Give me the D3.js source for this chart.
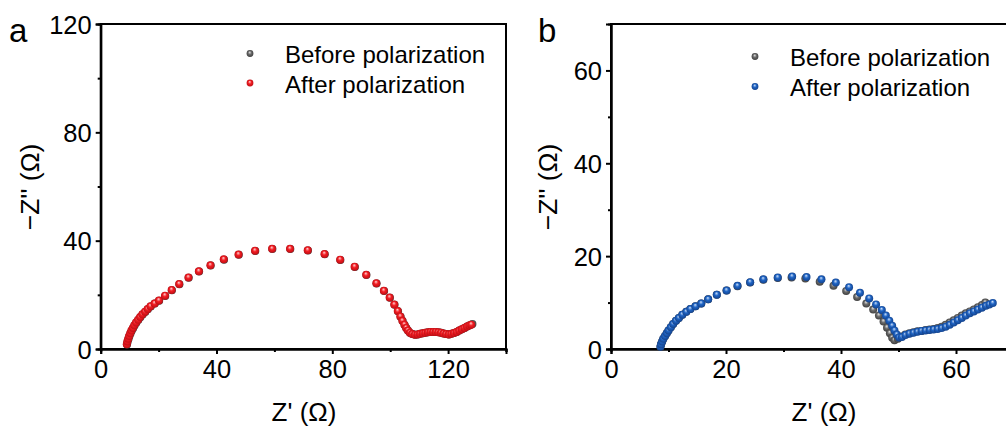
<!DOCTYPE html>
<html>
<head>
<meta charset="utf-8">
<script src="https://cdn.jsdelivr.net/npm/d3@7"></script>
<style>
  body { margin: 0; background: #fff; }
  svg { display: block; font-family: "Liberation Sans", Arial, sans-serif; }
</style>
</head>
<body>
<div id="chart"></div>
<script>
// panel a: Z' / -Z'' pairs, ohm
const aBefore = [
  [9.1,1.7],[9.3,2.7],[9.6,3.7],[9.9,4.7],[10.3,5.7],[10.7,6.7],[11.2,7.7],[11.7,8.7],[12.3,9.7],
  [13.0,10.7],[13.7,11.7],[14.5,12.7],[15.4,13.7],[16.3,14.7],[17.3,15.7],[18.7,16.8],[20.2,17.8],
  [22.3,19.6],[24.6,21.7],[27.2,23.9],[30.4,26.3],[34.0,28.6],[38.0,30.8],[42.6,33.0],[47.7,34.8],
  [53.4,36.2],[59.3,36.9],[65.5,36.9],[71.6,36.4],[77.4,35.0],[82.8,32.9],[87.8,30.3],[91.8,27.3],
  [95.3,24.2],[97.9,21.4],[99.9,18.9],[101.5,16.3],[102.7,13.9],[103.6,11.9],[104.3,10.3],[105.0,8.9],
  [105.6,7.7],[106.2,6.7],[106.9,5.9],[107.7,5.5],[108.6,5.3],[109.5,5.4],[110.4,5.6],[111.3,5.8],
  [112.2,6.0],[113.1,6.2],[114.0,6.3],[114.9,6.3],[115.8,6.3],[116.7,6.2],[117.6,6.0],[118.5,5.7],
  [119.4,5.5],[120.3,5.4],[121.2,5.6],[122.1,5.9],[123.0,6.3],[123.9,6.8],[124.8,7.3],[125.7,7.8],
  [126.6,8.3],[127.5,8.8],[128.4,9.2]
];
const aAfter = [
  [9.0,1.8],[9.2,2.8],[9.5,3.8],[9.8,4.8],[10.2,5.8],[10.6,6.8],[11.1,7.8],[11.6,8.8],[12.2,9.8],
  [12.9,10.8],[13.6,11.8],[14.4,12.8],[15.3,13.8],[16.2,14.8],[17.2,15.8],[18.6,16.8],[20.1,17.9],
  [22.2,19.7],[24.5,21.8],[27.1,24.0],[30.3,26.4],[33.9,28.7],[37.9,30.9],[42.5,33.1],[47.6,34.9],
  [53.3,36.3],[59.2,37.0],[65.4,37.0],[71.5,36.5],[77.3,35.1],[82.7,33.0],[87.7,30.4],[91.7,27.4],
  [95.2,24.3],[97.8,21.5],[99.8,19.0],[101.4,16.4],[102.6,14.0],[103.5,12.0],[104.2,10.4],[104.9,9.0],
  [105.5,7.8],[106.1,6.8],[106.8,6.0],[107.6,5.5],[108.5,5.3],[109.4,5.4],[110.3,5.6],[111.2,5.8],
  [112.1,6.0],[113.0,6.2],[113.9,6.3],[114.8,6.3],[115.7,6.3],[116.6,6.2],[117.5,6.0],[118.4,5.7],
  [119.3,5.5],[120.2,5.4],[121.1,5.6],[122.0,5.9],[122.9,6.3],[123.8,6.8],[124.7,7.3],[125.6,7.8],
  [126.5,8.3],[127.3,8.7],[128.0,9.0]
];

// panel b
const bBefore = [
  [8.6,0.5],[8.7,1.0],[8.9,1.6],[9.1,2.2],[9.4,2.8],[9.7,3.4],[10.0,4.0],[10.4,4.7],[10.8,5.4],
  [11.3,6.1],[11.8,6.7],[12.4,7.4],[13.1,8.0],[13.8,8.6],[14.7,9.2],[15.7,9.8],[16.9,10.7],[18.4,11.7],
  [20.1,12.6],[22.0,13.5],[24.2,14.3],[26.5,14.9],[29.0,15.3],[31.4,15.4],[33.8,15.2],[36.3,14.5],
  [38.7,13.6],[40.9,12.5],[42.8,11.2],[44.4,9.8],[45.6,8.5],[46.6,7.2],[47.4,5.9],[48.0,4.6],
  [48.5,3.4],[48.9,2.4],[49.3,1.9],[49.9,2.2],[50.5,2.7],[51.2,3.1],[51.9,3.4],[52.6,3.6],[53.3,3.8],
  [54.0,3.9],[54.7,4.1],[55.4,4.2],[56.1,4.3],[56.8,4.5],[57.5,4.8],[58.2,5.2],[58.9,5.7],[59.6,6.2],
  [60.3,6.7],[61.0,7.2],[61.7,7.7],[62.4,8.1],[63.1,8.5],[63.8,9.0],[64.5,9.5],[65.1,10.0]
];
const bAfter = [
  [8.6,0.5],[8.7,1.0],[8.9,1.6],[9.1,2.2],[9.4,2.8],[9.7,3.4],[10.0,4.0],[10.4,4.7],[10.8,5.4],
  [11.3,6.1],[11.8,6.7],[12.4,7.4],[13.1,8.0],[13.8,8.6],[14.7,9.2],[15.7,9.8],[16.9,10.7],[18.4,11.7],
  [20.1,12.6],[22.0,13.6],[24.2,14.4],[26.5,15.0],[29.0,15.4],[31.5,15.6],[34.0,15.5],[36.6,15.0],
  [39.1,14.3],[41.4,13.3],[43.3,12.1],[44.9,10.9],[46.1,9.6],[47.1,8.4],[47.8,7.2],[48.4,6.1],
  [48.9,5.0],[49.3,4.0],[49.7,3.1],[50.1,2.5],[50.6,2.6],[51.2,3.0],[51.9,3.3],[52.6,3.5],[53.3,3.7],
  [54.0,3.9],[54.7,4.0],[55.4,4.1],[56.1,4.2],[56.8,4.3],[57.5,4.5],[58.2,4.8],[58.9,5.2],[59.6,5.7],
  [60.3,6.2],[61.0,6.7],[61.7,7.2],[62.4,7.7],[63.1,8.1],[63.8,8.5],[64.5,8.9],[65.2,9.3],[65.8,9.6],
  [66.4,9.9]
];

const legendLabels = ["Before polarization", "After polarization"];
const aXTicks = [0, 40, 80, 120], aYTicks = [0, 40, 80, 120];
const bXTicks = [0, 20, 40, 60], bYTicks = [0, 20, 40, 60];

const W = 1006, H = 429;
const svg = d3.select("#chart").append("svg")
  .attr("width", W).attr("height", H);

const defs = svg.append("defs");
function ball(id, light, base, dark) {
  const g = defs.append("radialGradient").attr("id", id)
    .attr("cx", "50%").attr("cy", "50%").attr("r", "55%")
    .attr("fx", "45%").attr("fy", "30%");
  g.append("stop").attr("offset", "0%").attr("stop-color", light);
  g.append("stop").attr("offset", "45%").attr("stop-color", base);
  g.append("stop").attr("offset", "100%").attr("stop-color", dark);
}
ball("gGray", "#e6e6e6", "#6b6b6b", "#3a3a3a");
ball("gRed", "#ffd6d6", "#f21d23", "#b80c12");
ball("gBlue", "#cfe2fb", "#1f64c4", "#123f87");

function panel(o) {
  const x = d3.scaleLinear().domain(o.xDomain).range([o.left, o.right]);
  const y = d3.scaleLinear().domain(o.yDomain).range([o.bottom, o.top]);
  const g = svg.append("g");

  // frame
  g.append("rect")
    .attr("x", o.left).attr("y", o.top)
    .attr("width", o.right - o.left).attr("height", o.bottom - o.top)
    .attr("fill", "none").attr("stroke", "#000").attr("stroke-width", 2);

  const xAxis = g.append("g").attr("transform", `translate(0,${o.bottom})`)
    .call(d3.axisBottom(x).tickValues(o.xTicks).tickSize(5).tickPadding(6).tickFormat(d3.format("d")));
  const xMinor = g.append("g").attr("transform", `translate(0,${o.bottom})`)
    .call(d3.axisBottom(x).tickValues(o.xMinor).tickSize(3).tickFormat(""));
  const yAxis = g.append("g").attr("transform", `translate(${o.left},0)`)
    .call(d3.axisLeft(y).tickValues(o.yTicks).tickSize(5).tickPadding(4).tickFormat(d3.format("d")));
  const yMinor = g.append("g").attr("transform", `translate(${o.left},0)`)
    .call(d3.axisLeft(y).tickValues(o.yMinor).tickSize(3).tickFormat(""));

  [xAxis, xMinor, yAxis, yMinor].forEach(a => {
    a.select(".domain").attr("stroke-width", 2);
    a.selectAll(".tick line").attr("stroke-width", 2);
    a.selectAll(".tick text").attr("font-size", 25.5).attr("fill", "#000")
      .attr("font-family", '"Liberation Sans", Arial, sans-serif');
  });
  xAxis.selectAll(".tick text").attr("dy", "0.7em");
  yAxis.selectAll(".tick text").attr("dy", "0.36em");

  // series
  o.series.forEach(s => {
    g.append("g").selectAll("circle").data(s.data).join("circle")
      .attr("cx", d => x(d[0])).attr("cy", d => y(d[1]))
      .attr("r", 4).attr("fill", `url(#${s.grad})`);
  });

  // legend
  o.series.forEach((s, i) => {
    g.append("circle").attr("cx", o.legX).attr("cy", o.legY[i])
      .attr("r", 3.4).attr("fill", `url(#${s.grad})`);
    g.append("text").attr("x", o.legX + 35).attr("y", o.legY[i] + 9.5)
      .attr("font-size", 24).text(legendLabels[i]);
  });

  // axis titles
  g.append("text").attr("x", o.xTitleX).attr("y", 421)
    .attr("text-anchor", "middle").attr("font-size", 26).text("Z' (Ω)");
  g.append("text")
    .attr("transform", `translate(${o.yTitleX},187) rotate(-90)`)
    .attr("text-anchor", "middle").attr("font-size", 26.5).text("−Z'' (Ω)");

  // panel letter
  g.append("text").attr("x", o.letterX).attr("y", 42)
    .attr("font-size", 33).text(o.letter);
}

panel({
  left: 100.7, right: 506, top: 24, bottom: 349,
  xDomain: [0, 140], yDomain: [0, 120],
  xTicks: aXTicks, yTicks: aYTicks,
  xMinor: [20, 60, 100, 140], yMinor: [20, 60, 100],
  series: [{data: aBefore, grad: "gGray"}, {data: aAfter, grad: "gRed"}],
  legX: 250, legY: [53.5, 83],
  xTitleX: 304, yTitleX: 39, letter: "a", letterX: 9
});

panel({
  left: 611, right: 1013.5, top: 24, bottom: 349,
  xDomain: [0, 70], yDomain: [0, 70],
  xTicks: bXTicks, yTicks: bYTicks,
  xMinor: [10, 30, 50, 70], yMinor: [10, 30, 50],
  series: [{data: bBefore, grad: "gGray"}, {data: bAfter, grad: "gBlue"}],
  legX: 755, legY: [56.5, 86.5],
  xTitleX: 824, yTitleX: 557, letter: "b", letterX: 538
});
</script>
</body>
</html>
